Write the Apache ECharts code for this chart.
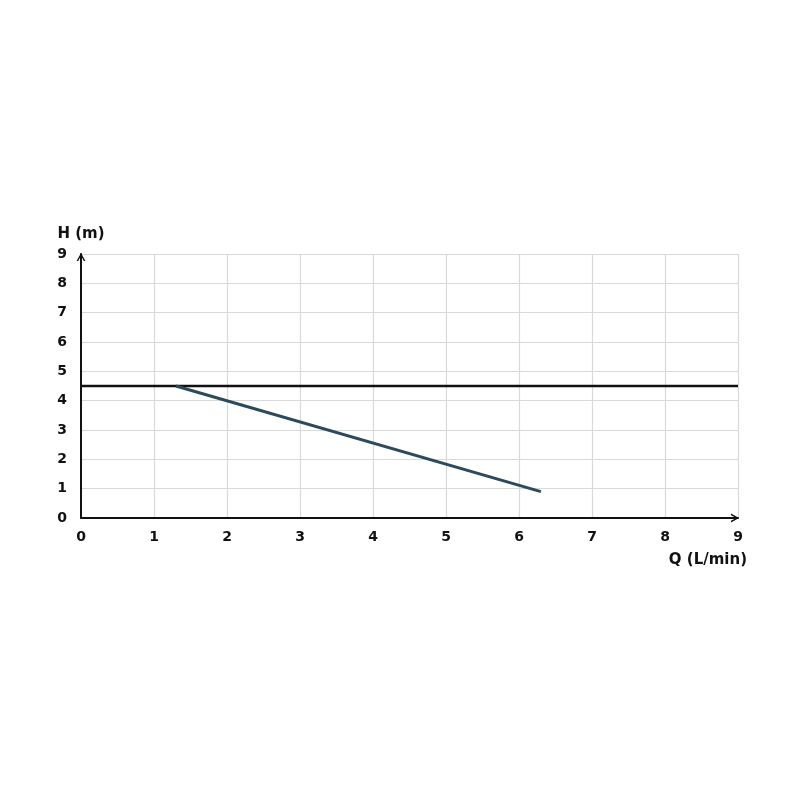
<!DOCTYPE html>
<html>
<head>
<meta charset="utf-8">
<script src="https://cdn.jsdelivr.net/npm/echarts@6/dist/echarts.min.js"></script>
<style>html,body{margin:0;padding:0;background:#fff;}#c{width:800px;height:800px;}</style>
</head>
<body>
<div id="c"></div>
<script>
const xTicks = [0,1,2,3,4,5,6,7,8,9];
const yTicks = [0,1,2,3,4,5,6,7,8,9];
const curveQ = [1.3, 6.3];
const curveH = [4.5, 0.9];
const limitQ = [0, 9];
const limitH = [4.5, 4.5];

const chart = echarts.init(document.getElementById('c'));
const font = '"DejaVu Sans", sans-serif';
const chevron = 'path://M0,9 L5,0 L10,9 L8.2,9 L5,3.2 L1.8,9 Z';
chart.setOption({
  animation: false,
  backgroundColor: '#fff',
  grid: {left: 81, right: 62, top: 254, bottom: 282},
  xAxis: {
    type: 'value', min: xTicks[0], max: xTicks[xTicks.length-1], interval: 1,
    name: 'Q (L/min)', nameLocation: 'end', nameGap: 9,
    nameTextStyle: {align: 'right', verticalAlign: 'top', padding: [35,0,0,0], fontFamily: font, fontWeight: 'bold', fontSize: 15, color: '#111'},
    axisLine: {lineStyle: {color: '#111', width: 2}, symbol: ['none', chevron], symbolSize: [12,8], symbolOffset: [0,-3]},
    axisTick: {show: false},
    axisLabel: {margin: 12, fontFamily: font, fontWeight: 'bold', fontSize: 14, color: '#111'},
    splitLine: {show: true, lineStyle: {color: '#d9d9d9', width: 1.2}}
  },
  yAxis: {
    type: 'value', min: yTicks[0], max: yTicks[yTicks.length-1], interval: 1,
    name: 'H (m)', nameLocation: 'end', nameGap: 12,
    nameTextStyle: {fontFamily: font, fontWeight: 'bold', fontSize: 15, color: '#111', padding: [0,0,0,0]},
    axisLine: {show: true, lineStyle: {color: '#111', width: 2}, symbol: ['none', chevron], symbolSize: [12,8], symbolOffset: [0,-3]},
    axisTick: {show: false},
    axisLabel: {margin: 14, fontFamily: font, fontWeight: 'bold', fontSize: 14, color: '#111'},
    splitLine: {show: true, lineStyle: {color: '#d9d9d9', width: 1.2}}
  },
  series: [
    {type: 'line', data: limitQ.map((q,i)=>[q, limitH[i]]), symbol: 'none', lineStyle: {color: '#111', width: 2.5}, z: 3},
    {type: 'line', data: curveQ.map((q,i)=>[q, curveH[i]]), symbol: 'none', lineStyle: {color: '#2c4a5c', width: 3}, z: 4}
  ]
});
</script>
</body>
</html>
